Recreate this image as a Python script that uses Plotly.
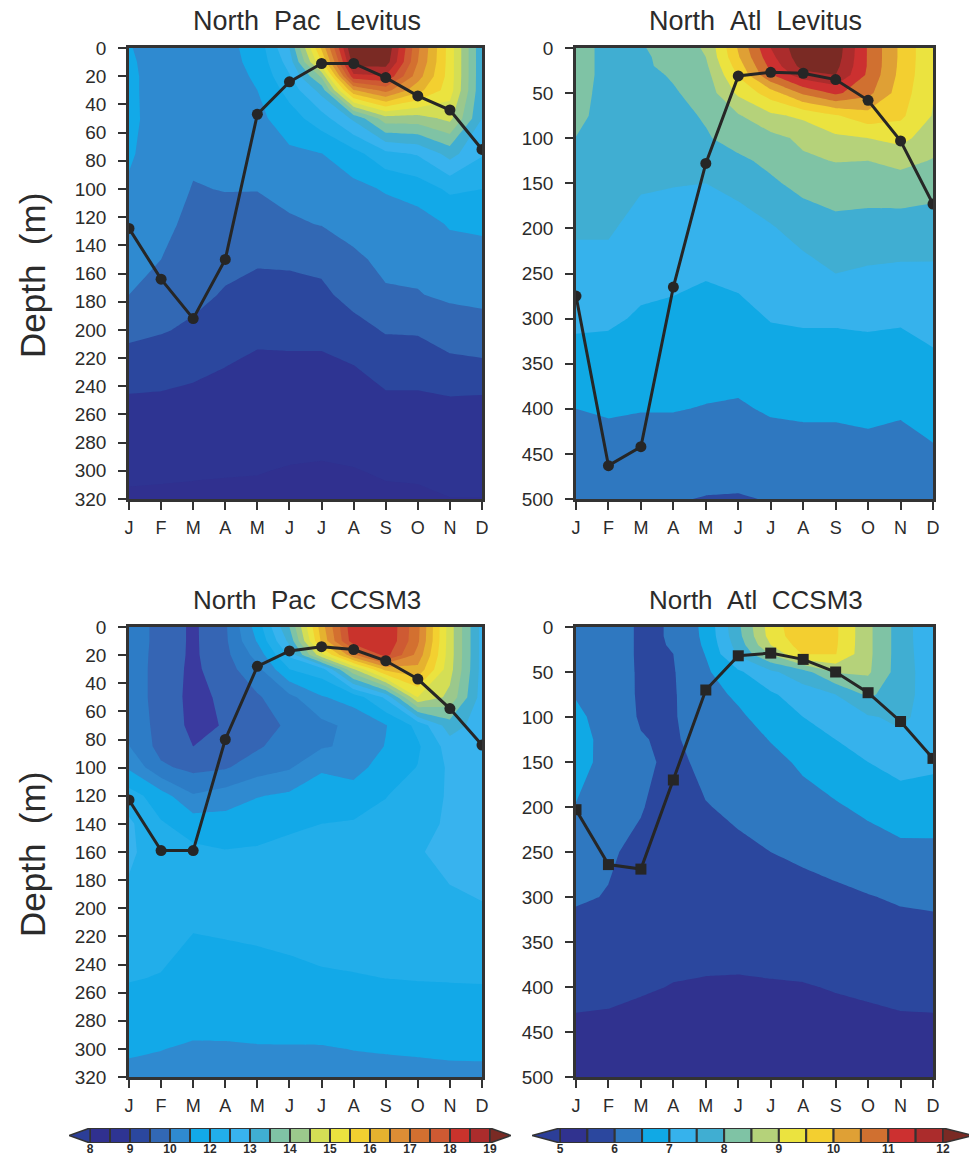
import numpy as np
import plotly.graph_objects as go

W, H = 969, 1156
months = ["J", "F", "M", "A", "M", "J", "J", "A", "S", "O", "N", "D"]
month_pos = list(range(12))

# ---------- North Pac Levitus ----------
pl_depth = [0, 10, 20, 30, 50, 75, 100, 125, 150, 175, 200, 225, 250, 300, 320]
pl_jan = [10.77, 10.80, 10.82, 10.82, 10.83, 10.8, 10.7, 10.55, 10.4, 10.2, 9.8, 9.4, 9.03, 8.65, 8.47]
pl_feb = [10.6, 10.6, 10.6, 10.6, 10.6, 10.55, 10.5, 10.35, 10.2, 9.95, 9.7, 9.3, 9.03, 8.62, 8.47]
pl_mar = [10.5, 10.5, 10.5, 10.5, 10.45, 10.3, 10.17, 10.05, 9.95, 9.8, 9.55, 9.2, 9.0, 8.6, 8.46]
pl_apr = [10.6, 10.58, 10.55, 10.5, 10.45, 10.35, 10.22, 10.0, 9.8, 9.6, 9.35, 9.11, 8.95, 8.58, 8.46]
pl_may = [10.95, 10.9, 10.82, 10.75, 10.6, 10.4, 10.22, 9.95, 9.72, 9.45, 9.2, 9.02, 8.9, 8.57, 8.45]
pl_jun = [12.4, 12.1, 11.8, 11.5, 11.05, 10.65, 10.35, 10.13, 9.72, 9.5, 9.22, 9.02, 8.88, 8.52, 8.44]
pl_jul = [15.8, 15.1, 13.6, 12.6, 11.6, 10.74, 10.45, 10.22, 9.8, 9.53, 9.25, 9.0, 8.85, 8.5, 8.44]
pl_aug = [19.7, 19.3, 18.3, 16.2, 12.5, 11.1, 10.6, 10.35, 10.12, 9.85, 9.45, 9.1, 8.9, 8.53, 8.45]
pl_sep = [19.5, 19.3, 18.4, 17.0, 13.8, 11.7, 10.8, 10.45, 10.3, 10.15, 9.7, 9.3, 9.02, 8.6, 8.46]
pl_oct = [16.9, 16.8, 16.5, 15.9, 13.8, 11.9, 11.0, 10.5, 10.3, 10.18, 9.72, 9.3, 9.02, 8.62, 8.47]
pl_nov = [14.9, 14.9, 14.9, 14.85, 14.2, 12.6, 11.4, 10.8, 10.5, 10.28, 9.95, 9.5, 9.05, 8.7, 8.54]
pl_dec = [12.5, 12.5, 12.5, 12.5, 12.4, 11.9, 11.3, 10.85, 10.55, 10.3, 10.05, 9.55, 9.02, 8.7, 8.54]
pl_mld = [128, 164, 192, 150, 47, 24, 11, 11, 21, 34, 44, 72]

# ---------- North Atl Levitus ----------
al_depth = [0, 10, 20, 30, 50, 75, 100, 125, 150, 200, 250, 300, 400, 500]
al_jan = [8.2, 8.2, 8.2, 8.2, 8.2, 8.13, 7.99, 7.93, 7.85, 7.55, 7.35, 7.1, 6.5, 6.1]
al_feb = [7.85, 7.85, 7.85, 7.85, 7.8, 7.8, 7.75, 7.7, 7.65, 7.55, 7.35, 7.07, 6.55, 6.08]
al_mar = [7.95, 7.9, 7.9, 7.85, 7.85, 7.8, 7.75, 7.65, 7.55, 7.35, 7.12, 6.95, 6.52, 6.03]
al_apr = [8.25, 8.2, 8.15, 8.05, 7.95, 7.85, 7.75, 7.65, 7.52, 7.3, 7.1, 6.9, 6.52, 6.03]
al_may = [8.55, 8.5, 8.4, 8.3, 8.2, 8.05, 7.95, 7.75, 7.5, 7.3, 7.03, 6.85, 6.48, 5.98]
al_jun = [10.05, 9.95, 9.75, 9.55, 9.1, 8.45, 8.2, 7.9, 7.6, 7.35, 7.1, 6.87, 6.45, 5.97]
al_jul = [11.5, 11.35, 11.15, 10.95, 9.75, 8.9, 8.35, 8.12, 7.92, 7.45, 7.18, 7.02, 6.55, 6.02]
al_aug = [12.4, 12.35, 12.2, 11.8, 10.6, 9.1, 8.6, 8.42, 8.15, 7.7, 7.3, 7.05, 6.57, 6.1]
al_sep = [12.3, 12.25, 12.15, 12.0, 11.1, 9.45, 8.9, 8.52, 8.25, 7.85, 7.5, 7.05, 6.57, 6.1]
al_oct = [10.95, 10.95, 10.95, 10.9, 10.65, 9.8, 9.0, 8.5, 8.22, 7.82, 7.43, 7.07, 6.6, 6.15]
al_nov = [9.9, 9.9, 9.88, 9.85, 9.75, 9.6, 9.15, 8.65, 8.28, 7.78, 7.4, 7.05, 6.55, 6.15]
al_dec = [9.05, 9.05, 9.05, 9.05, 9.03, 8.97, 8.72, 8.47, 8.22, 7.72, 7.42, 7.15, 6.68, 6.2]
al_mld = [275, 463, 442, 265, 128, 31, 27, 28, 35, 58, 103, 173]

# ---------- North Pac CCSM3 ----------
pc_depth = [0, 10, 20, 30, 50, 70, 85, 100, 120, 140, 160, 200, 250, 300, 320]
pc_jan = [10.0, 10.0, 10.0, 10.0, 10.0, 10.1, 10.22, 10.68, 11.55, 11.95, 11.95, 11.7, 11.33, 10.8, 10.65]
pc_feb = [9.45, 9.45, 9.42, 9.4, 9.4, 9.42, 9.45, 9.75, 11.0, 11.35, 11.55, 11.6, 11.27, 10.76, 10.62]
pc_mar = [9.0, 9.0, 9.0, 8.98, 8.95, 8.98, 9.1, 9.5, 10.25, 11.05, 11.42, 11.4, 11.12, 10.7, 10.58]
pc_apr = [9.57, 9.55, 9.5, 9.42, 9.2, 9.13, 9.3, 9.6, 10.45, 11.0, 11.33, 11.42, 11.15, 10.7, 10.57]
pc_may = [11.0, 10.8, 10.4, 10.05, 9.58, 9.47, 9.58, 9.95, 10.72, 11.12, 11.35, 11.45, 11.17, 10.72, 10.57]
pc_jun = [12.95, 12.55, 11.95, 11.3, 10.05, 9.72, 9.92, 10.15, 10.85, 11.22, 11.43, 11.5, 11.2, 10.72, 10.58]
pc_jul = [16.0, 15.8, 14.4, 11.6, 10.7, 10.05, 10.15, 10.68, 11.05, 11.3, 11.45, 11.55, 11.25, 10.72, 10.58]
pc_aug = [18.35, 18.25, 16.7, 14.0, 10.98, 10.35, 10.3, 10.55, 11.0, 11.35, 11.5, 11.6, 11.27, 10.76, 10.6]
pc_sep = [18.44, 18.44, 18.1, 15.9, 11.95, 10.72, 10.78, 11.0, 11.28, 11.47, 11.6, 11.68, 11.3, 10.78, 10.62]
pc_oct = [16.95, 16.9, 16.6, 16.1, 14.6, 11.45, 11.22, 11.32, 11.55, 11.7, 11.83, 11.8, 11.32, 10.8, 10.63]
pc_nov = [14.3, 14.3, 14.3, 14.25, 13.9, 12.7, 12.1, 11.95, 11.92, 11.92, 11.92, 11.8, 11.33, 10.82, 10.65]
pc_dec = [12.2, 12.2, 12.2, 12.2, 12.15, 12.1, 12.05, 12.0, 11.95, 11.92, 11.92, 11.84, 11.34, 10.83, 10.65]
pc_mld = [123, 159, 159, 80, 28, 17, 14, 16, 24, 37, 58, 84]

# ---------- North Atl CCSM3 ----------
ac_depth = [0, 10, 20, 30, 50, 75, 100, 125, 150, 200, 250, 300, 400, 500]
ac_jan = [6.3, 6.3, 6.32, 6.33, 6.38, 6.45, 6.65, 6.9, 6.94, 6.45, 6.22, 6.05, 5.58, 5.3]
ac_feb = [6.25, 6.25, 6.25, 6.25, 6.25, 6.22, 6.2, 6.15, 6.1, 6.1, 6.05, 5.98, 5.58, 5.25]
ac_mar = [5.93, 5.93, 5.93, 5.93, 5.94, 5.95, 5.97, 6.02, 6.11, 6.03, 5.9, 5.8, 5.53, 5.25]
ac_apr = [6.03, 6.03, 6.02, 6.0, 5.97, 5.96, 5.96, 5.94, 5.88, 5.78, 5.72, 5.68, 5.49, 5.25]
ac_may = [6.64, 6.62, 6.58, 6.52, 6.42, 6.33, 6.28, 6.2, 6.12, 5.98, 5.85, 5.72, 5.47, 5.2]
ac_jun = [7.9, 7.85, 7.72, 7.58, 6.92, 6.58, 6.42, 6.3, 6.2, 6.08, 5.92, 5.75, 5.46, 5.2]
ac_jul = [9.25, 9.2, 9.0, 8.55, 7.4, 6.93, 6.7, 6.52, 6.38, 6.15, 6.0, 5.8, 5.47, 5.2]
ac_aug = [9.89, 9.87, 9.75, 9.55, 7.8, 7.25, 7.0, 6.72, 6.57, 6.35, 6.08, 5.85, 5.48, 5.2]
ac_sep = [9.58, 9.58, 9.56, 9.52, 8.55, 7.5, 7.22, 7.0, 6.78, 6.45, 6.15, 5.92, 5.52, 5.22]
ac_oct = [8.62, 8.62, 8.62, 8.62, 8.58, 8.1, 7.45, 7.2, 7.0, 6.6, 6.28, 5.98, 5.55, 5.25]
ac_nov = [7.75, 7.75, 7.75, 7.75, 7.75, 7.7, 7.6, 7.4, 7.2, 6.72, 6.4, 6.05, 5.58, 5.28]
ac_dec = [7.1, 7.1, 7.12, 7.15, 7.2, 7.25, 7.28, 7.25, 7.12, 6.68, 6.42, 6.08, 5.58, 5.3]
ac_mld = [203, 264, 269, 170, 70, 32, 29, 36, 50, 73, 105, 146]

# ---------- colour scales ----------
pac_levels = [8 + 0.55 * k for k in range(21)]
pac_labels = ["8", "9", "10", "12", "13", "14", "15", "16", "17", "18", "19"]
pac_colors = ["#2c3e98", "#30308f", "#2e3492", "#2b479e", "#3268b4", "#2f8ad0", "#12a9e8", "#22aeea",
              "#38b3ee", "#40aed2", "#7fc3a5", "#9bc88c", "#d4de55", "#ebe33f", "#f3d030", "#e5b22f",
              "#dd8d35", "#d37030", "#ce5a33", "#c9332c", "#ab2c2c", "#7a2a24"]
pac_model_colors = list(pac_colors)
pac_model_colors[2] = "#3a3a9f"
pac_model_colors[3] = "#3565b4"
pac_model_colors[4] = "#2d7cc6"

atl_levels = [5 + 0.5 * k for k in range(15)]
atl_labels = ["5", "6", "7", "8", "9", "10", "11", "12"]
atl_colors = ["#2c3e98", "#30328f", "#2b479e", "#2f78c0", "#10a9e5", "#36b2ec", "#40aed2", "#7fc3a5",
              "#b5d27a", "#ebe33f", "#f3cf30", "#dfa035", "#d07030", "#cc3030", "#ab2c2c", "#7a2a24"]

FONT = "Liberation Sans"
INK = "#2b2b2b"


def px_x(a, b):
    return [a / W, b / W]


def px_y(top, bottom):
    return [1 - bottom / H, 1 - top / H]


fig = go.Figure()

panels = [
    dict(title="North\u00a0\u00a0Pac\u00a0\u00a0Levitus", tsize=27, cols=[pl_jan, pl_feb, pl_mar, pl_apr, pl_may, pl_jun, pl_jul, pl_aug, pl_sep, pl_oct, pl_nov, pl_dec],
         depth=pl_depth, mld=pl_mld, levels=pac_levels, colors=pac_colors, symbol="circle", size=11,
         xdom=(129, 482), ydom=(48, 499), ymax=320, dtick=20),
    dict(title="North\u00a0\u00a0Atl\u00a0\u00a0Levitus", tsize=27, cols=[al_jan, al_feb, al_mar, al_apr, al_may, al_jun, al_jul, al_aug, al_sep, al_oct, al_nov, al_dec],
         depth=al_depth, mld=al_mld, levels=atl_levels, colors=atl_colors, symbol="circle", size=11,
         xdom=(576, 933), ydom=(48, 499), ymax=500, dtick=50),
    dict(title="North\u00a0\u00a0Pac\u00a0\u00a0CCSM3", tsize=26, cols=[pc_jan, pc_feb, pc_mar, pc_apr, pc_may, pc_jun, pc_jul, pc_aug, pc_sep, pc_oct, pc_nov, pc_dec],
         depth=pc_depth, mld=pc_mld, levels=pac_levels, colors=pac_model_colors, symbol="circle", size=11,
         xdom=(129, 482), ydom=(627, 1077), ymax=320, dtick=20),
    dict(title="North\u00a0\u00a0Atl\u00a0\u00a0CCSM3", tsize=26, cols=[ac_jan, ac_feb, ac_mar, ac_apr, ac_may, ac_jun, ac_jul, ac_aug, ac_sep, ac_oct, ac_nov, ac_dec],
         depth=ac_depth, mld=ac_mld, levels=atl_levels, colors=atl_colors, symbol="square", size=11,
         xdom=(576, 933), ydom=(627, 1077), ymax=500, dtick=50),
]

axis_line = dict(showline=True, linecolor="#333333", linewidth=2.5, mirror=True, ticks="outside", automargin=False,
                 tickcolor="#333333", tickwidth=2, ticklen=8, showgrid=False, zeroline=False)
annotations = []
layout_axes = {}
for n, p in enumerate(panels, start=1):
    xa, ya = f"x{n}", f"y{n}"
    lv = p["levels"]
    cl = p["colors"]
    scale = [[k / (len(cl) - 1), c] for k, c in enumerate(cl)]
    fig.add_trace(go.Contour(
        x=month_pos, y=p["depth"], z=np.array(p["cols"]).T.tolist(), xaxis=xa, yaxis=ya,
        autocontour=False,
        contours=dict(start=lv[0], end=lv[-1] + 1e-3, size=lv[1] - lv[0], coloring="fill", showlines=False),
        line=dict(width=0, smoothing=0), colorscale=scale, showscale=False, hoverinfo="skip"))
    fig.add_trace(go.Scatter(
        x=month_pos, y=p["mld"], xaxis=xa, yaxis=ya, mode="lines+markers",
        line=dict(color="#262626", width=3),
        marker=dict(symbol=p["symbol"], size=p["size"], color="#262626"), hoverinfo="skip"))
    layout_axes[f"xaxis{n}"] = dict(domain=px_x(*p["xdom"]), range=[0, 11], anchor=ya, tickmode="array",
                                    tickvals=month_pos, ticktext=months, layer="above traces", ticklabelstandoff=3,
                                    tickfont=dict(family=FONT, size=18, color=INK), **axis_line)
    layout_axes[f"yaxis{n}"] = dict(domain=px_y(*p["ydom"]), range=[p["ymax"], 0], anchor=xa, tick0=0, dtick=p["dtick"],
                                    tickmode="linear", layer="above traces", ticklabelstandoff=8,
                                    tickfont=dict(family=FONT, size=19, color=INK), **axis_line)
    annotations.append(dict(text=p["title"], x=(sum(p["xdom"]) / 2 + 1) / W, y=1 - (p["ydom"][0] - 27) / H, xref="paper", yref="paper",
                            showarrow=False, xanchor="center", yanchor="middle",
                            font=dict(family=FONT, size=p["tsize"], color=INK)))

for top in (48, 627):
    annotations.append(dict(text="Depth\u00a0\u00a0(m)", x=32 / W, y=1 - (top + 228) / H, xref="paper", yref="paper",
                            showarrow=False, textangle=-90, xanchor="center", yanchor="middle",
                            font=dict(family=FONT, size=35, color=INK)))

# colour bars, drawn from the level lists
bars = [
    dict(levels=pac_levels, colors=pac_colors, labels=pac_labels, dom=(69, 511), box=(90, 490), every=2, n=5),
    dict(levels=atl_levels, colors=atl_colors, labels=atl_labels, dom=(532, 969), box=(560, 943), every=2, n=6),
]
for n, b in zip((5, 6), bars):
    lv = b["levels"]
    step = lv[1] - lv[0]
    unit = (b["box"][1] - b["box"][0]) / (lv[-1] - lv[0])
    lo = lv[0] - (b["box"][0] - b["dom"][0]) / unit
    hi = lv[-1] + (b["dom"][1] - b["box"][1]) / unit
    xa, ya = f"x{n}", f"y{n}"
    tip_r = lv[-1] + 21 / unit if n == 5 else lv[-1] + 30 / unit
    for xs, col in (([lv[0], lo, lv[0], lv[0]], b["colors"][0]), ([lv[-1], tip_r, lv[-1], lv[-1]], b["colors"][-1])):
        fig.add_trace(go.Scatter(x=xs, y=[0, 0.5, 1, 0], xaxis=xa, yaxis=ya, mode="lines", fill="toself", fillcolor=col,
                                 line=dict(color="#333333", width=1.5), hoverinfo="skip", cliponaxis=False))
    fig.add_trace(go.Bar(x=[v + step / 2 for v in lv[:-1]], y=[1] * (len(lv) - 1), width=step, base=0,
                         xaxis=xa, yaxis=ya, marker=dict(color=b["colors"][1:-1], line=dict(color="#333333", width=2)),
                         hoverinfo="skip", cliponaxis=False))
    layout_axes[f"xaxis{n}"] = dict(domain=px_x(*b["dom"]), range=[lo, hi], anchor=ya, tickmode="array",
                                    tickvals=lv[::b["every"]], ticktext=b["labels"], ticks="", showgrid=False, zeroline=False,
                                    showline=False, automargin=False, ticklabelstandoff=-3,
                                    tickfont=dict(family=FONT, size=12, color=INK, weight=700))
    layout_axes[f"yaxis{n}"] = dict(domain=px_y(1128, 1143), range=[0, 1], anchor=xa, visible=False, automargin=False)

fig.update_layout(width=W, height=H, margin=dict(l=0, r=0, t=0, b=0, autoexpand=False), paper_bgcolor="white", plot_bgcolor="white",
                  showlegend=False, annotations=annotations, barmode="overlay", **layout_axes)
fig.write_html("out.html", config=dict(displayModeBar=False),
               post_script="document.body.style.margin='0';document.body.style.overflow='hidden';")
